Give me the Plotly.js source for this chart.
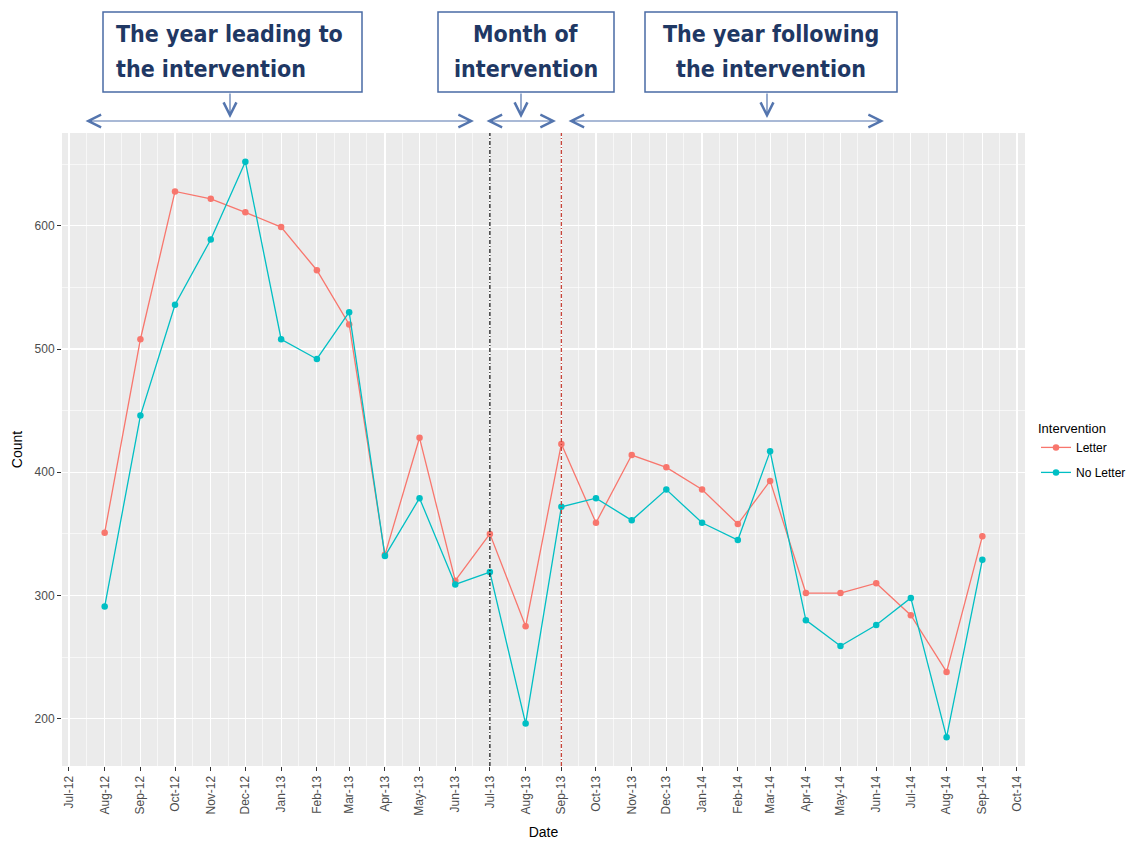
<!DOCTYPE html>
<html>
<head>
<meta charset="utf-8">
<script src="https://cdn.plot.ly/plotly-3.0.1.min.js"></script>
<style>html,body{margin:0;padding:0;background:#fff;}#chart{width:1130px;height:841px;}</style>
</head>
<body>
<div id="chart"></div>
<script>
// ---- data ----
const months = ['2012-08-01','2012-09-01','2012-10-01','2012-11-01','2012-12-01','2013-01-01',
  '2013-02-01','2013-03-01','2013-04-01','2013-05-01','2013-06-01','2013-07-01','2013-08-01',
  '2013-09-01','2013-10-01','2013-11-01','2013-12-01','2014-01-01','2014-02-01','2014-03-01',
  '2014-04-01','2014-05-01','2014-06-01','2014-07-01','2014-08-01','2014-09-01'];
const letter   = [351,508,628,622,611,599,564,520,333,428,312,350,275,423,359,414,404,386,358,393,302,302,310,284,238,348];
const noLetter = [291,446,536,589,652,508,492,530,332,379,309,319,196,372,379,361,386,359,345,417,280,259,276,298,185,329];
const seriesNames = ['Letter','No Letter'];
const seriesColors = ['#F8766D','#00BFC4'];
const interventionStart = ['2013-07-01'];
const interventionEnd = ['2013-09-01'];
const boxLines = [['The year leading to','the intervention'],['Month of','intervention'],['The year following','the intervention']];

// ---- layout helpers (pixel -> paper) ----
const M = {l:62, r:105, t:133, b:75, autoexpand:false};
const W = 1130, H = 841;
const PW = W - M.l - M.r, PH = H - M.t - M.b;
const px = x => (x - M.l) / PW;
const py = y => (H - M.b - y) / PH;

const traces = [letter, noLetter].map((vals, i) => ({
  type:'scatter', mode:'lines+markers', name: seriesNames[i], legendgroup:'g' + i,
  x: months, y: vals,
  line:{color: seriesColors[i], width:1.3},
  marker:{color: seriesColors[i], size:6.5}
}));

const boxColor = '#4A6BA5';
const arrowColor = '#5475AE';
const textColor = '#1F3864';
const boxes = [
  {x0:103, x1:362, align:'left'},
  {x0:438, x1:614, align:'center'},
  {x0:645, x1:897, align:'center'}
];
const shapes = [];
const annotations = [];
boxes.forEach((b, i) => {
  shapes.push({type:'rect', xref:'paper', yref:'paper', x0:px(b.x0), x1:px(b.x1), y0:py(92), y1:py(12),
    line:{color:boxColor, width:1.5}, fillcolor:'white', layer:'above'});
  boxLines[i].forEach((t, j) => {
    annotations.push({xref:'paper', yref:'paper',
      x: b.align === 'left' ? px(b.x0 + 11) : px((b.x0 + b.x1)/2),
      xanchor: b.align === 'left' ? 'left' : 'center',
      y: py(j === 0 ? 34 : 69), yanchor:'middle', align: b.align, showarrow:false,
      text: t,
      font:{family:'Liberation Sans Narrow, DejaVu Sans Condensed, Liberation Sans, sans-serif', size:23, weight:700, color:textColor}});
  });
});
// down arrows
[230, 521, 767].forEach(x => {
  annotations.push({xref:'paper', yref:'paper', x:px(x), y:py(118), ax:0, ay:-26, text:'',
    showarrow:true, arrowhead:5, arrowsize:2.1, arrowwidth:1.2, arrowcolor:arrowColor});
});
// horizontal double arrows
[[84,474],[485,556],[567,884]].forEach(([a,b]) => {
  annotations.push({xref:'paper', yref:'paper', x:px(b), y:py(121), ax:-(b-a), ay:0, text:'',
    showarrow:true, arrowside:'end+start', arrowhead:5, startarrowhead:5,
    arrowsize:2.1, startarrowsize:2.1, arrowwidth:1.2, arrowcolor:arrowColor});
});
// intervention lines
shapes.push({type:'line', xref:'x', yref:'paper', x0:interventionStart[0], x1:interventionStart[0], y0:0, y1:1,
  line:{color:'#222222', width:1.3, dash:'4px,2px,1px,2px'}});
shapes.push({type:'line', xref:'x', yref:'paper', x0:interventionEnd[0], x1:interventionEnd[0], y0:0, y1:1,
  line:{color:'#C8453A', width:1.3, dash:'4px,2px,1px,2px'}});

const tickFont = {family:'Liberation Sans, Arial, sans-serif', size:12, color:'#4D4D4D'};
const layout = {
  width:W, height:H, margin:M,
  paper_bgcolor:'white', plot_bgcolor:'#EBEBEB',
  showlegend:true,
  legend:{x:px(1036), y:py(416), xanchor:'left', yanchor:'top', bgcolor:'rgba(0,0,0,0)',
    title:{text:'Intervention', font:{family:'Liberation Sans, Arial, sans-serif', size:13, color:'#000'}},
    font:{family:'Liberation Sans, Arial, sans-serif', size:12, color:'#000'}, itemwidth:30, tracegroupgap:6},
  xaxis:{type:'date', range:['2012-06-25','2014-10-08'], tick0:'2012-07-01', dtick:'M1', tickformat:'%b-%y',
    tickangle:-90, ticks:'outside', ticklen:4, tickcolor:'#333333', tickfont:tickFont,
    showgrid:true, gridcolor:'white', gridwidth:1.2, zeroline:false, showline:false, automargin:false,
    minor:{tick0:'2012-07-16', dtick:'M1', showgrid:true, gridcolor:'white', gridwidth:0.6, ticks:''},
    title:{text:'Date', font:{family:'Liberation Sans, Arial, sans-serif', size:14, color:'#000'}, standoff:12}},
  yaxis:{range:[161.6, 675.4], tick0:0, dtick:100, ticks:'outside', ticklen:4, tickcolor:'#333333', tickfont:tickFont,
    showgrid:true, gridcolor:'white', gridwidth:1.2, zeroline:false, showline:false, automargin:false,
    minor:{dtick:50, showgrid:true, gridcolor:'white', gridwidth:0.6, ticks:''},
    title:{text:'Count', font:{family:'Liberation Sans, Arial, sans-serif', size:14, color:'#000'}, standoff:8}},
  shapes:shapes, annotations:annotations
};
Plotly.newPlot('chart', traces, layout, {displayModeBar:false, staticPlot:true});
</script>
</body>
</html>
